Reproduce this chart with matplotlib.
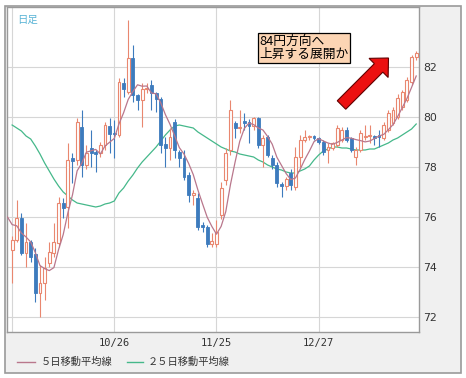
"""Daily USD/JPY candles with 5- and 25-day moving averages."""
import matplotlib

matplotlib.use("Agg")
import matplotlib.pyplot as plt  # noqa: E402
import numpy as np  # noqa: E402
import pandas as pd  # noqa: E402
from matplotlib.lines import Line2D  # noqa: E402
from matplotlib.patches import FancyArrow, Rectangle  # noqa: E402
from matplotlib.transforms import IdentityTransform  # noqa: E402

plt.rcParams["font.family"] = ["Noto Sans CJK JP", "DejaVu Sans"]

# daily OHLC, oldest first
opens = [74.68, 75.08, 75.96, 74.56, 75.00, 74.52, 72.96, 73.36, 74.16, 74.56,
         74.96, 76.56, 76.40, 78.36, 78.28, 79.60, 78.08, 78.76, 78.60, 78.56,
         78.88, 79.64, 79.36, 79.28, 81.36, 81.00, 82.36, 80.88, 80.68, 81.12,
         81.28, 80.96, 80.72, 78.92, 78.76, 79.80, 78.60, 78.36, 77.68, 76.88,
         76.76, 75.68, 75.60, 74.92, 74.92, 76.08, 77.48, 78.68, 79.76, 79.56,
         79.84, 79.80, 79.64, 79.96, 78.88, 79.20, 78.36, 78.08, 77.32, 77.24,
         77.76, 77.20, 78.40, 79.08, 79.20, 79.20, 79.16, 79.00, 78.68, 78.76,
         78.88, 79.08, 79.48, 79.16, 78.40, 78.68, 79.20, 79.24, 79.24, 79.28,
         79.16, 79.48, 79.76, 80.00, 80.40, 80.68, 81.40, 82.40]
closes = [75.08, 75.96, 74.56, 75.00, 74.40, 72.96, 73.36, 73.96, 74.60, 75.00,
          76.56, 76.36, 78.28, 78.24, 79.80, 78.08, 78.56, 78.56, 78.52, 78.88,
          79.68, 79.32, 79.32, 81.40, 81.12, 82.36, 80.88, 80.68, 81.12, 81.16,
          80.96, 80.72, 78.88, 78.76, 79.20, 78.68, 78.36, 77.60, 76.88, 76.96,
          75.60, 75.60, 74.92, 75.04, 75.40, 77.16, 78.56, 80.28, 79.56, 79.56,
          79.76, 79.64, 79.96, 78.88, 79.16, 78.48, 78.08, 77.36, 77.24, 77.52,
          77.28, 78.40, 79.08, 79.20, 79.22, 79.18, 79.00, 78.60, 78.80, 78.96,
          79.56, 79.48, 79.08, 78.68, 78.68, 79.36, 79.22, 79.26, 79.16, 79.20,
          79.68, 80.16, 80.28, 80.76, 81.00, 81.48, 82.40, 82.56]
highs = [75.24, 76.68, 76.16, 75.76, 75.10, 74.76, 74.08, 74.40, 75.00, 75.76,
         76.80, 76.76, 78.96, 78.56, 79.96, 80.28, 78.88, 79.48, 78.70, 79.00,
         79.80, 79.96, 79.88, 81.56, 81.56, 83.88, 82.88, 80.90, 81.36, 81.36,
         81.48, 81.00, 80.80, 79.20, 79.56, 79.90, 78.70, 78.68, 77.80, 77.10,
         76.96, 75.80, 75.70, 75.36, 75.88, 77.40, 78.76, 80.68, 79.84, 80.28,
         80.16, 79.90, 80.00, 80.00, 79.30, 79.30, 78.50, 78.20, 77.40, 77.60,
         77.90, 78.80, 79.28, 79.48, 79.30, 79.30, 79.20, 79.10, 78.96, 79.00,
         79.68, 79.60, 79.60, 79.20, 78.80, 79.48, 79.68, 79.68, 79.30, 79.48,
         79.80, 80.28, 80.40, 80.90, 81.10, 81.60, 82.50, 82.64]
lows = [73.36, 75.00, 74.50, 74.00, 74.20, 72.60, 72.00, 72.68, 74.00, 74.40,
        74.80, 75.96, 75.56, 77.36, 78.10, 77.60, 77.90, 78.00, 77.80, 78.40,
        78.70, 78.56, 78.36, 79.20, 80.80, 80.90, 80.60, 80.28, 79.60, 80.96,
        80.28, 80.20, 78.56, 78.00, 78.28, 78.36, 78.00, 77.48, 76.60, 76.48,
        75.50, 75.40, 74.80, 74.80, 74.80, 75.90, 77.30, 78.50, 79.16, 79.36,
        79.48, 78.96, 79.50, 78.76, 78.00, 78.40, 77.90, 77.20, 76.80, 77.10,
        77.10, 77.10, 78.00, 79.00, 79.10, 79.10, 78.90, 78.48, 78.16, 78.70,
        78.80, 79.00, 79.00, 78.60, 78.08, 78.60, 79.10, 78.96, 78.88, 78.80,
        79.10, 79.40, 79.70, 79.90, 80.30, 80.60, 81.30, 82.30]
# last five closes before the visible window (feed the 5-day average)
earlier_closes = [76.60, 76.20, 76.00, 75.80, 75.40]
# 25-day average as drawn
ma25 = [79.68, 79.56, 79.44, 79.24, 79.12, 78.84, 78.52, 78.16, 77.84, 77.52,
        77.24, 77.00, 76.84, 76.68, 76.56, 76.52, 76.48, 76.44, 76.40, 76.44,
        76.52, 76.56, 76.64, 76.96, 77.16, 77.44, 77.68, 77.96, 78.20, 78.40,
        78.60, 78.80, 79.04, 79.28, 79.48, 79.64, 79.68, 79.64, 79.60, 79.56,
        79.40, 79.28, 79.16, 79.04, 78.92, 78.80, 78.72, 78.64, 78.60, 78.52,
        78.48, 78.44, 78.40, 78.28, 78.20, 78.08, 78.00, 77.92, 77.88, 77.80,
        77.76, 77.76, 77.84, 77.92, 78.04, 78.28, 78.48, 78.64, 78.72, 78.80,
        78.80, 78.76, 78.76, 78.72, 78.68, 78.68, 78.68, 78.72, 78.72, 78.80,
        78.88, 78.96, 79.08, 79.16, 79.28, 79.40, 79.52, 79.72]

date_ticks = [0, 22, 44, 66]
date_labels = ["", "10/26", "11/25", "12/27"]
price_ticks = [72, 74, 76, 78, 80, 82]

UP = "#e9876f"
DOWN = "#3d7bbd"
MA5_COLOR = "#b9778c"
MA25_COLOR = "#45b88a"

W, H = 466, 378


def main() -> None:
    o = np.array(opens)
    c = np.array(closes)
    hi = np.array(highs)
    lo = np.array(lows)
    x = np.arange(len(c))
    up = c >= o

    # rolling mean over the extended close series; first value lands at x = -1
    ma5 = pd.Series(earlier_closes + closes).rolling(5).mean().to_numpy()[4:]
    x5 = np.arange(-1, len(c))

    fig = plt.figure(figsize=(W / 100, H / 100), dpi=100, facecolor="white")
    # outer panel, kept underneath the axes
    fig.patches.append(Rectangle((5 / W, 1 - 373 / H), 456 / W, 367 / H,
                                 transform=fig.transFigure, facecolor="#f0f0f0",
                                 edgecolor="#9a9a9a", linewidth=1.2, zorder=-5))

    ax = fig.add_axes([7 / W, 1 - 332 / H, 412 / W, 325 / H], zorder=1)
    ax.set_facecolor("white")
    ax.set_xlim(-1.1, 87.6)
    ax.set_ylim(71.4, 84.4)

    ax.set_yticks(price_ticks)
    ax.yaxis.tick_right()
    ax.tick_params(axis="y", length=0, pad=3, labelsize=7.8, labelcolor="#333333")
    for t in ax.get_yticklabels():
        t.set_fontfamily("DejaVu Sans")
    ax.set_xticks(date_ticks)
    ax.set_xticklabels(date_labels, fontfamily="DejaVu Sans Mono", fontsize=7.5,
                       color="#333333")
    ax.tick_params(axis="x", length=0, pad=4)
    ax.grid(color="#d6d6d6", linewidth=0.8)
    ax.set_axisbelow(True)
    for s in ax.spines.values():
        s.set_color("#9a9a9a")
        s.set_linewidth(1.0)

    # 25-day average sits behind the candles
    ax.plot(x, ma25, color=MA25_COLOR, linewidth=0.9, zorder=2)

    # wicks
    ax.vlines(x[up], lo[up], hi[up], color=UP, linewidth=0.8, zorder=3)
    ax.vlines(x[~up], lo[~up], hi[~up], color=DOWN, linewidth=0.8, zorder=3)
    # bodies: hollow for rising days, filled blue for falling days
    bottom = np.minimum(o, c)
    height = np.maximum(np.abs(c - o), 0.04)
    ax.bar(x[up], height[up], bottom=bottom[up], width=0.62, facecolor="white",
           edgecolor=UP, linewidth=0.8, zorder=4)
    ax.bar(x[~up], height[~up], bottom=bottom[~up], width=0.62, facecolor=DOWN,
           edgecolor=DOWN, linewidth=0.6, zorder=4)

    ax.plot(x5, ma5, color=MA5_COLOR, linewidth=0.9, zorder=5)

    ax.text(0.025, 0.975, "日足", transform=ax.transAxes, ha="left", va="top",
            fontsize=7.5, color="#5ab4d6")

    # callout
    ax.text(0.612, 0.915, "84円方向へ\n上昇する展開か", transform=ax.transAxes,
            ha="left", va="top", fontsize=9.2, color="black", linespacing=1.05,
            zorder=8,
            bbox=dict(boxstyle="square,pad=0.12", facecolor="#fcd5b4",
                      edgecolor="black", linewidth=0.9))
    fig.add_artist(FancyArrow(341.5, H - 105, 47, 47, width=12,
                              head_width=27, head_length=14,
                              length_includes_head=True,
                              transform=IdentityTransform(),
                              facecolor="#ec1010", edgecolor="#600000",
                              linewidth=0.8, zorder=10))

    # legend row
    ly = 1 - 362 / H
    fig.add_artist(Line2D([17 / W, 35 / W], [ly, ly], color=MA5_COLOR,
                          linewidth=1.0, transform=fig.transFigure))
    fig.text(41 / W, ly, "５日移動平均線", fontsize=7.4, color="#333333",
             va="center", ha="left")
    fig.add_artist(Line2D([127 / W, 143 / W], [ly, ly], color=MA25_COLOR,
                          linewidth=1.0, transform=fig.transFigure))
    fig.text(148 / W, ly, "２５日移動平均線", fontsize=7.4, color="#333333",
             va="center", ha="left")

    fig.savefig("out.png", dpi=100, facecolor="white")
    plt.close(fig)


if __name__ == "__main__":
    main()
